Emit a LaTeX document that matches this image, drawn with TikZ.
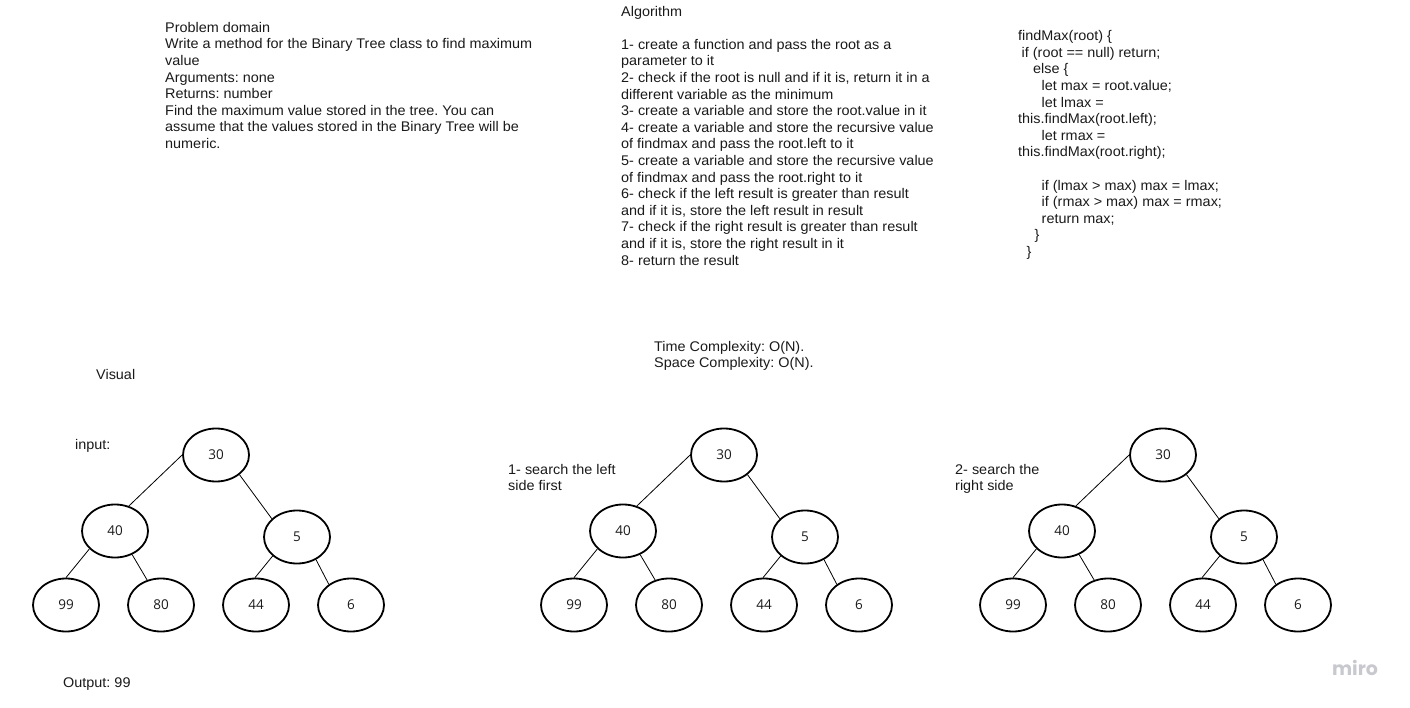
\documentclass[tikz,border=0pt]{standalone}
\usepackage{fontspec}
\setmainfont[FakeStretch=1.03]{Liberation Sans}
\newfontfamily\treefont{Open Sans}
\newfontfamily\mirofont{Poppins}
\usepackage{tikz}
\usetikzlibrary{shapes.geometric, positioning}
\definecolor{Texto}{RGB}{26, 26, 26}
\definecolor{Logo}{RGB}{200, 201, 206}
\frenchspacing

\begin{document}
\begin{tikzpicture}[x=1pt, y=-1pt,
        txt/.style={anchor=north west, inner sep=0pt, align=left, text=Texto, font=\fontsize{14}{16.6}\selectfont},
        lbl/.style={anchor=base west, inner sep=0pt, align=left, text=Texto, font=\fontsize{14}{16.6}\selectfont},
        tnode/.style={ellipse, draw=black, line width=1.8pt, minimum width=66pt, minimum height=53pt, inner sep=0pt, text=Texto, font=\treefont\fontsize{13.5}{16}\selectfont},
        edge/.style={draw=black, line width=0.8pt}
    ]
        \useasboundingbox (0,0) rectangle (1410,708);

        % Bloques de texto superiores
        \node[txt] (problem) at (165,22) {Problem domain\\
            Write a method for the Binary Tree class to find maximum\\
            value\\
            Arguments: none\\
            Returns: number\\
            Find the maximum value stored in the tree. You can\\
            assume that the values stored in the Binary Tree will be\\
            numeric.};
        \node[txt] (algo) at (621,5.8) {Algorithm\\[16.6pt]
            1- create a function and pass the root as a\\
            parameter to it\\
            2- check if the root is null and if it is, return it in a\\
            different variable as the minimum\\
            3- create a variable and store the root.value in it\\
            4- create a variable and store the recursive value\\
            of findmax and pass the root.left to it\\
            5- create a variable and store the recursive value\\
            of findmax and pass the root.right to it\\
            6- check if the left result is greater than result\\
            and if it is, store the left result in result\\
            7- check if the right result is greater than result\\
            and if it is, store the right result in it\\
            8- return the result};
        \node[txt] (code) at (1018,30.3) {findMax(root) \{\\
            \hspace*{3.5pt}if (root == null) return;\\
            \hspace*{15pt}else \{\\
            \hspace*{23.5pt}let max = root.value;\\
            \hspace*{23.5pt}let lmax =\\
            this.findMax(root.left);\\
            \hspace*{23.5pt}let rmax =\\
            this.findMax(root.right);\\[16.6pt]
            \hspace*{23.5pt}if (lmax > max) max = lmax;\\
            \hspace*{23.5pt}if (rmax > max) max = rmax;\\
            \hspace*{23.5pt}return max;\\
            \hspace*{16.5pt}\}\\
            \hspace*{8.5pt}\}};

        % Complejidad y etiquetas
        \node[txt] (cplx) at (654,340.8) {Time Complexity: O(N).\\Space Complexity: O(N).};
        \node[lbl] (visual) at (96,379) {Visual};
        \node[lbl] (input) at (75,449) {input:};
        \node[txt] (stepa) at (508,463.8) {1- search the left\\side first};
        \node[txt] (stepb) at (955,463.8) {2- search the\\right side};
        \node[lbl] (output) at (63,687) {Output: 99};
        \node[anchor=center, inner sep=0pt, text=Logo, font=\mirofont\bfseries\fontsize{19}{20}\selectfont] (miro) at (1355,668) {miro};

        % Los tres arboles
        \foreach \tr/\dx in {A/0, B/508, C/947} {
            \node[tnode] (\tr-root) at (\dx+216,455) {30};
            \node[tnode] (\tr-left) at (\dx+115,531) {40};
            \node[tnode] (\tr-right) at (\dx+297,537) {5};
            \node[tnode] (\tr-ll) at (\dx+66,605) {99};
            \node[tnode] (\tr-lr) at (\dx+161,605) {80};
            \node[tnode] (\tr-rl) at (\dx+256,605) {44};
            \node[tnode] (\tr-rr) at (\dx+351,605) {6};
            \draw[edge] (\tr-root.180) -- (\tr-left.61);
            \draw[edge] (\tr-root.-40) -- (\tr-right.144);
            \draw[edge] (\tr-left.-145) -- (\tr-ll.90);
            \draw[edge] (\tr-left.-54) -- (\tr-lr.119);
            \draw[edge] (\tr-right.-142) -- (\tr-rl.92);
            \draw[edge] (\tr-right.-50) -- (\tr-rr.137);
        }
    \end{tikzpicture}
\end{document}
